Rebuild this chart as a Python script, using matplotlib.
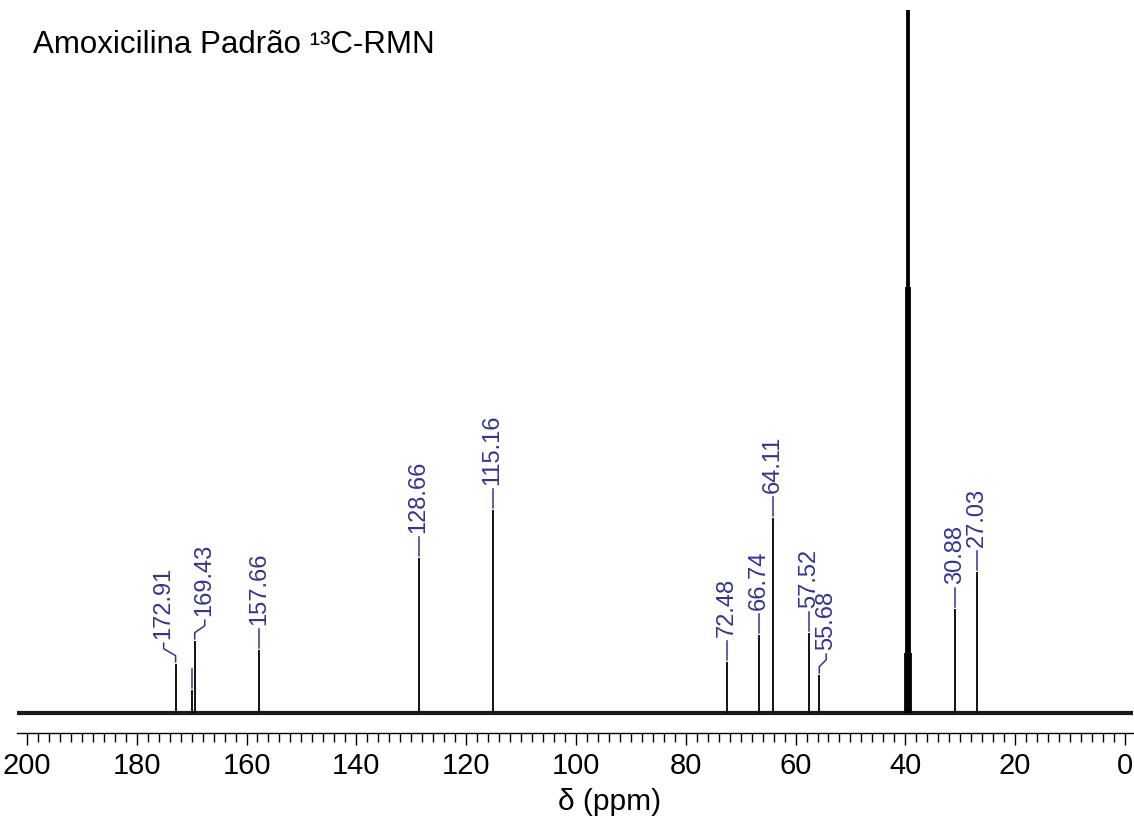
import matplotlib
matplotlib.use("Agg")
import matplotlib.pyplot as plt
import matplotlib.transforms as mtransforms
from matplotlib.ticker import MultipleLocator

plt.rcParams['font.family'] = ['Liberation Sans', 'DejaVu Sans']

# ---- data ----
peak_ppm = [172.91, 169.95, 169.43, 157.66, 128.66, 115.16,
            72.48, 66.74, 64.11, 57.52, 55.68, 30.88, 27.03]
peak_height = [49, 23, 72, 63, 155, 203,
               51, 78, 195, 80, 38, 104, 141]
peak_label = ["172.91", "", "169.43", "157.66", "128.66", "115.16",
              "72.48", "66.74", "64.11", "57.52", "55.68", "30.88", "27.03"]
label_shift = [-8.6, 0, 7.2, 0, 0, 0, 0, 0, 0, 0, 5.0, 0, 0]   # pt, horizontal kink of leader

# solvent (DMSO-d6) multiplet
solvent_ppm = [40.02, 39.82, 39.64, 39.52, 39.40, 39.22, 39.02]
solvent_height = [60, 426, 900, 1000, 900, 426, 60]

title = "Amoxicilina Padrão ¹³C-RMN"
xlabel = "δ (ppm)"
blue = "#34348E"

W, H = 1134, 822
fig = plt.figure(figsize=(W / 100, H / 100), dpi=100)
ax = fig.add_axes([17 / W, 89 / H, 1116 / W, 723 / H])
ax.set_xlim(201.8, -1.46)
ax.set_ylim(-20, 703)

for s in ("left", "right", "top"):
    ax.spines[s].set_visible(False)
ax.spines["bottom"].set_linewidth(1.0)
ax.set_yticks([])
ax.xaxis.set_major_locator(MultipleLocator(20))
ax.xaxis.set_minor_locator(MultipleLocator(2))
ax.tick_params(axis="x", which="major", length=8.6, width=1.0, pad=5.0,
               labelsize=21, direction="out")
ax.tick_params(axis="x", which="minor", length=6.3, width=1.0, direction="out")

# baseline (noise band)
ax.axhline(0, color="#1a1a1a", lw=3.0, zorder=2)

# peaks
ax.vlines(peak_ppm, 0, peak_height, color="black", lw=1.3, zorder=3)
ax.vlines(solvent_ppm, 0, solvent_height, color="black", lw=1.3, zorder=3)

# labels with leaders
scale = mtransforms.Affine2D().scale(fig.dpi / 72.0)
for x, h, lab, dx in zip(peak_ppm, peak_height, peak_label, label_shift):
    tr = scale + mtransforms.ScaledTranslation(x, h, ax.transData)
    if dx == 0:
        xs, ys = [0, 0], [1.5, 15]
    else:
        xs, ys = [0, 0, dx, dx], [1.5, 6, 11, 15]
    ax.plot(xs, ys, color=blue, lw=1.1, transform=tr, clip_on=False, zorder=4)
    if lab:
        ax.annotate(lab, xy=(x, h), xytext=(dx, 18.0), textcoords="offset points",
                    rotation=90, ha="center", va="bottom", color=blue,
                    fontsize=17, zorder=5)

fig.text(33 / W, 1 - 53 / H, title, fontsize=22.5, ha="left", va="baseline")
fig.text(610 / W, 1 - 802 / H, xlabel, fontsize=21.5, ha="center", va="center")

fig.savefig("out.png", dpi=100)
